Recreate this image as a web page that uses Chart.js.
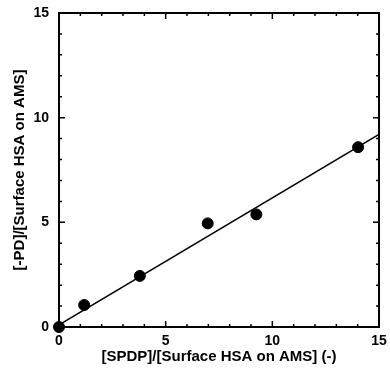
<!DOCTYPE html>
<html>
<head>
<meta charset="utf-8">
<script src="https://cdn.jsdelivr.net/npm/chart.js@4.4.1/dist/chart.umd.min.js"></script>
<style>
  html, body { margin: 0; padding: 0; background: #fff; }
  #wrap { width: 390px; height: 371px; }
</style>
</head>
<body>
<div id="wrap"><canvas id="plot" width="390" height="371"></canvas></div>
<script>
// measured points
const spdpRatio = [0, 1.18, 3.79, 6.97, 9.25, 14.02];
const pdRatio = [0, 1.05, 2.44, 4.95, 5.38, 8.59];

// fitted line, end points
const fitX = [0, 15];
const fitY = [0.1, 9.2];

const xTicks = [0, 5, 10, 15];
const yTicks = [0, 5, 10, 15];

const xTitle = '[SPDP]/[Surface HSA on AMS] (-)';
const yTitle = '[-PD]/[Surface HSA on AMS]';

const fontFam = '"Liberation Sans", Arial, sans-serif';

// box + inward ticks
const framePlugin = {
  id: 'frame',
  afterDraw(chart) {
    const ctx = chart.ctx;
    const a = chart.chartArea;
    const xs = chart.scales.x, ys = chart.scales.y;
    ctx.save();
    ctx.strokeStyle = '#000';
    ctx.lineWidth = 2;
    ctx.strokeRect(a.left, a.top, a.right - a.left, a.bottom - a.top);

    ctx.lineWidth = 1.5;
    ctx.beginPath();
    for (let v = xs.min; v <= xs.max; v++) {
      const px = xs.getPixelForValue(v);
      const len = v % 5 === 0 ? 6 : 3;
      ctx.moveTo(px, a.bottom); ctx.lineTo(px, a.bottom - len);
      ctx.moveTo(px, a.top); ctx.lineTo(px, a.top + len);
    }
    for (let v = ys.min; v <= ys.max; v++) {
      const py = ys.getPixelForValue(v);
      const len = v % 5 === 0 ? 6 : 3;
      ctx.moveTo(a.left, py); ctx.lineTo(a.left + len, py);
      ctx.moveTo(a.right, py); ctx.lineTo(a.right - len, py);
    }
    ctx.stroke();
    ctx.restore();
  }
};

new Chart(document.getElementById('plot'), {
  type: 'scatter',
  data: {
    datasets: [
      {
        data: spdpRatio.map((x, i) => ({ x: x, y: pdRatio[i] })),
        backgroundColor: '#000',
        borderColor: '#000',
        pointRadius: 5.5,
        pointHoverRadius: 5.5,
        clip: false
      },
      {
        type: 'line',
        data: fitX.map((x, i) => ({ x: x, y: fitY[i] })),
        borderColor: '#000',
        borderWidth: 1.6,
        pointRadius: 0,
        fill: false
      }
    ]
  },
  options: {
    responsive: false,
    animation: false,
    layout: { padding: { top: 13, right: 11, left: 0, bottom: 0 } },
    plugins: { legend: { display: false }, tooltip: { enabled: false } },
    scales: {
      x: {
        type: 'linear',
        min: 0, max: 15,
        afterBuildTicks: s => { s.ticks = xTicks.map(v => ({ value: v })); },
        afterFit: s => { s.height = 44; s.paddingLeft = 0; s.paddingRight = 0; },
        grid: { display: false, drawTicks: false },
        border: { display: false },
        ticks: { color: '#000', padding: 6, font: { family: fontFam, size: 14, weight: 'bold' } },
        title: {
          display: true, text: xTitle, color: '#000',
          padding: { top: 0, bottom: 5 },
          font: { family: fontFam, size: 15, weight: 'bold' }
        }
      },
      y: {
        type: 'linear',
        min: 0, max: 15,
        afterBuildTicks: s => { s.ticks = yTicks.map(v => ({ value: v })); },
        afterFit: s => { s.width = 59; s.paddingTop = 0; s.paddingBottom = 0; },
        grid: { display: false, drawTicks: false },
        border: { display: false },
        ticks: { color: '#000', padding: 10, font: { family: fontFam, size: 14, weight: 'bold' } },
        title: {
          display: true, text: yTitle, color: '#000',
          padding: { top: 11, bottom: 0 },
          font: { family: fontFam, size: 15, weight: 'bold' }
        }
      }
    }
  },
  plugins: [framePlugin]
});
</script>
</body>
</html>
